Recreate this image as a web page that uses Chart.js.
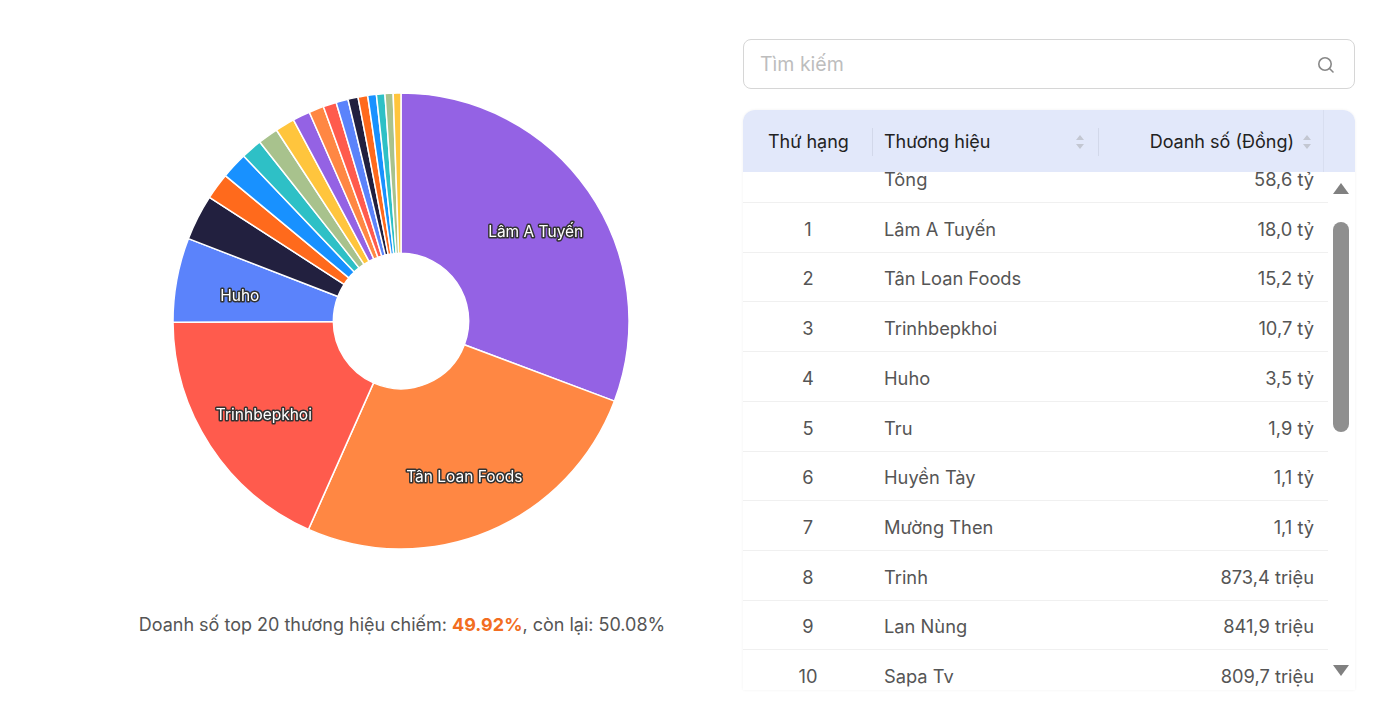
<!DOCTYPE html>
<html lang="vi">
<head>
<meta charset="utf-8">
<title>Top 20 thương hiệu</title>
<script src="https://cdn.jsdelivr.net/npm/chart.js@4.4.1/dist/chart.umd.min.js"></script>
<style>
    * { box-sizing: border-box; }
    html, body { margin: 0; padding: 0; background: #fff; }
    body { width: 1390px; height: 714px; position: relative; overflow: hidden; font-family: Inter, "Noto Sans", sans-serif; color: #555; }
    #chartBox { position: absolute; left: 161px; top: 81px; width: 480px; height: 480px; }
    #caption { position: absolute; left: 0; width: 804px; top: 614px; text-align: center; font-size: 18px; color: #555; }
    #caption b { color: #f26d21; font-weight: 700; }
    #search { position: absolute; left: 743px; top: 39px; width: 612px; height: 50px; border: 1px solid #d6d6d6; border-radius: 8px; }
    #search span { position: absolute; left: 16px; top: 12px; font-size: 19.5px; color: #bdbdbd; }
    #search svg { position: absolute; right: 19px; top: 16px; }
    #table { position: absolute; left: 743px; top: 110px; width: 612px; height: 580px; border-radius: 12px 12px 0 0; box-shadow: 0 0 3px rgba(0,0,0,0.06); overflow: hidden; }
    #head { position: absolute; left: 0; top: 0; width: 612px; height: 62px; background: #e2e8fa; font-size: 18px; color: #222; }
    #head div { position: absolute; top: 21px; }
    .sep { position: absolute; top: 18px; width: 1px; height: 28px; background: #d2d8ea; }
    .sort { position: absolute; top: 24px; }
    #body { position: absolute; left: 0; top: 62px; width: 585px; height: 518px; overflow: hidden; }
    .row { position: absolute; left: 0; width: 585px; height: 50px; border-bottom: 1px solid #f0f0f0; font-size: 18.3px; color: #555; }
    .row div { position: absolute; top: 15px; }
    .rank { left: 25px; width: 80px; text-align: center; }
    .brand { left: 141px; }
    .rev { right: 14px; text-align: right; }
    #thumb { position: absolute; left: 590px; top: 112px; width: 16px; height: 210px; background: #8f8f8f; border-radius: 8px; }
</style>
</head>
<body>
<div id="chartBox"><canvas id="brandChart"></canvas></div>
<div id="caption"></div>

<div id="search">
    <span>Tìm kiếm</span>
    <svg width="18" height="18" viewBox="0 0 18 18"><circle cx="8" cy="8" r="6.2" fill="none" stroke="#888" stroke-width="1.6"/><line x1="12.5" y1="12.5" x2="16" y2="16" stroke="#888" stroke-width="1.6" stroke-linecap="round"/></svg>
</div>

<div id="table">
    <div id="head">
        <div style="left:25px;">Thứ hạng</div>
        <span class="sep" style="left:129px;"></span>
        <div style="left:141px;">Thương hiệu</div>
        <svg class="sort" style="left:332px;" width="10" height="16" viewBox="0 0 10 16"><path d="M1 6 L5 1 L9 6 Z M1 10 L5 15 L9 10 Z" fill="#c3c7d2"/></svg>
        <span class="sep" style="left:355px;"></span>
        <div style="right:61px;">Doanh số (Đồng)</div>
        <svg class="sort" style="left:559px;" width="10" height="16" viewBox="0 0 10 16"><path d="M1 6 L5 1 L9 6 Z M1 10 L5 15 L9 10 Z" fill="#c3c7d2"/></svg>
        <span class="sep" style="left:580px;top:0;height:62px;background:#d8def0;"></span>
    </div>
    <div id="body"></div>
    <svg style="position:absolute;left:589px;top:71px;" width="18" height="14" viewBox="0 0 18 14"><path d="M1 13 L9 2 L17 13 Z" fill="#808080"/></svg>
    <div id="thumb"></div>
    <svg style="position:absolute;left:589px;top:554px;" width="18" height="14" viewBox="0 0 18 14"><path d="M1 1 L9 12 L17 1 Z" fill="#808080"/></svg>
</div>

<script>
// Top 20 brands (values in tỷ đồng)
const brands = ['Lâm A Tuyến', 'Tân Loan Foods', 'Trinhbepkhoi', 'Huho', 'Tru', 'Huyền Tày', 'Mường Then', 'Trinh', 'Lan Nùng', 'Sapa Tv',
    'Thương hiệu 11', 'Thương hiệu 12', 'Thương hiệu 13', 'Thương hiệu 14', 'Thương hiệu 15',
    'Thương hiệu 16', 'Thương hiệu 17', 'Thương hiệu 18', 'Thương hiệu 19', 'Thương hiệu 20'];
const revenue = [18.0, 15.2, 10.7, 3.5, 1.9, 1.1, 1.1, 0.8734, 0.8419, 0.8097,
    0.72, 0.62, 0.55, 0.50, 0.42, 0.40, 0.36, 0.35, 0.34, 0.32];
const palette = ['#9462e4', '#ff8743', '#ff5b4d', '#5b83fb', '#22203f', '#ff6a1c', '#1891ff', '#2ec0c6', '#a8c28d', '#ffc53d'];
const topShare = 49.92;
const restShare = 50.08;
const visibleRows = 10;

function formatRevenue(v) {
    if (v >= 1) return v.toFixed(1).replace('.', ',') + ' tỷ';
    return (v * 1000).toFixed(1).replace('.', ',') + ' triệu';
}

document.getElementById('caption').innerHTML =
    'Doanh số top 20 thương hiệu chiếm: <b>' + topShare.toFixed(2) + '%</b>, còn lại: ' + restShare.toFixed(2) + '%';

// Table rows (scrolled a bit so the total row is partly hidden)
const body = document.getElementById('body');
const total = revenue.reduce((a, b) => a + b, 0);
const rows = [['', 'Tổng', total]];
for (let i = 0; i < visibleRows; i++) rows.push([String(i + 1), brands[i], revenue[i]]);
rows.forEach(function(r, i) {
    const row = document.createElement('div');
    row.className = 'row';
    row.style.top = (i * 49.7 - 19) + 'px';
    row.innerHTML = '<div class="rank">' + r[0] + '</div><div class="brand">' + r[1] + '</div><div class="rev">' + formatRevenue(r[2]) + '</div>';
    body.appendChild(row);
});

// Slice labels for big slices
const sliceLabels = {
    id: 'sliceLabels',
    afterDatasetsDraw(chart) {
        const ctx = chart.ctx;
        const meta = chart.getDatasetMeta(0);
        const sum = revenue.reduce((a, b) => a + b, 0);
        ctx.save();
        ctx.font = '15.5px Inter, "Noto Sans", sans-serif';
        ctx.textAlign = 'center';
        ctx.textBaseline = 'middle';
        ctx.lineJoin = 'round';
        meta.data.forEach(function(arc, i) {
            if (revenue[i] / sum < 0.05) return;
            const p = arc.getProps(['x', 'y', 'startAngle', 'endAngle', 'innerRadius', 'outerRadius'], true);
            const a = (p.startAngle + p.endAngle) / 2;
            const r = p.innerRadius + (p.outerRadius - p.innerRadius) * 0.6;
            const x = p.x + Math.cos(a) * r;
            const y = p.y + Math.sin(a) * r + 5;
            ctx.strokeStyle = '#333';
            ctx.lineWidth = 3;
            ctx.strokeText(brands[i], x, y);
            ctx.fillStyle = '#fff';
            ctx.fillText(brands[i], x, y);
        });
        ctx.restore();
    }
};

new Chart(document.getElementById('brandChart'), {
    type: 'doughnut',
    data: {
        labels: brands,
        datasets: [{
            data: revenue,
            backgroundColor: revenue.map((v, i) => palette[i % palette.length]),
            borderColor: '#fff',
            borderWidth: 1.5,
            radius: 228,
            cutout: 71,
            hoverOffset: 0
        }]
    },
    options: {
        responsive: true,
        maintainAspectRatio: false,
        animation: false,
        layout: { padding: 0 },
        plugins: {
            legend: { display: false },
            tooltip: {
                callbacks: {
                    label: function(context) {
                        return formatRevenue(context.parsed);
                    }
                }
            }
        }
    },
    plugins: [sliceLabels]
});
</script>
</body>
</html>
